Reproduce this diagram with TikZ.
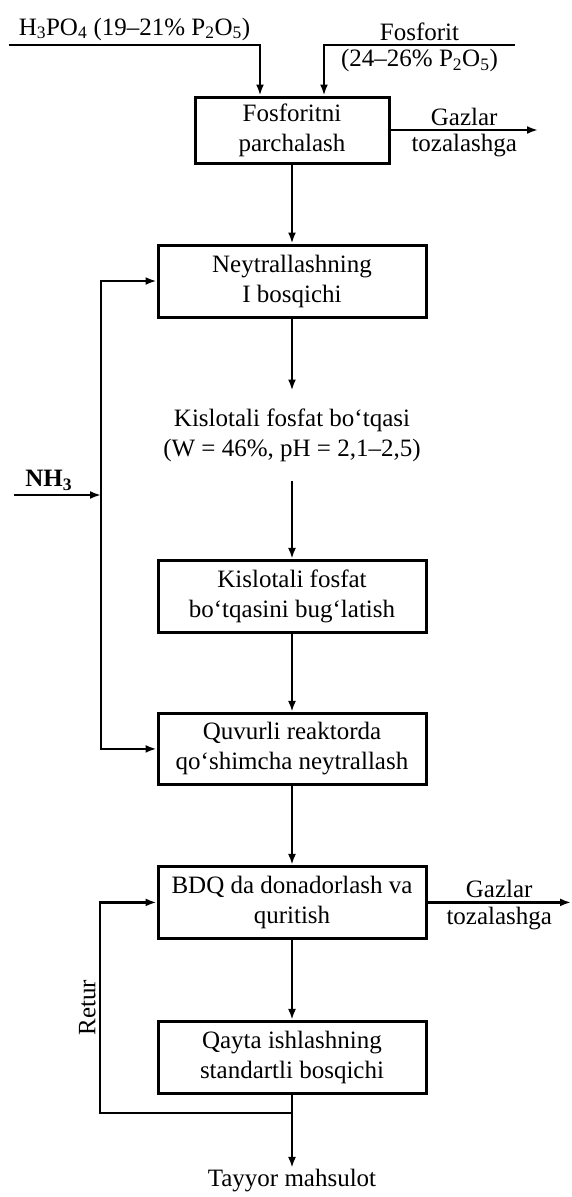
\documentclass[tikz,border=0pt]{standalone}
\usepackage{fontspec}
\setmainfont{Liberation Serif}
\usepackage{tikz}
\usetikzlibrary{positioning,arrows.meta}
\tikzset{
  blok/.style={rectangle, draw, line width=3pt, align=center,
    minimum width=268pt, minimum height=72pt, inner sep=3pt,
    font=\fontsize{25}{30}\selectfont},
  blokk/.style={blok, minimum width=194pt, minimum height=66pt},
  strelka/.style={-{Latex[length=11pt,width=8pt]}, line width=2.2pt},
  yozuv/.style={font=\fontsize{25}{30}\selectfont, align=center},
}

\begin{document}
\begin{tikzpicture}[x=1pt, y=-1pt]
  \useasboundingbox (0,0) rectangle (572,1197);
  \node[blokk] (parcha) at (292,130) {Fosforitni\\parchalash};
  \node[blok, below=79pt of parcha] (neytr) {Neytrallashning\\I bosqichi};
  \node[yozuv, below=72pt of neytr, minimum height=90pt] (kislota) {Kislotali fosfat bo‘tqasi\\(W = 46\%, pH = 2,1–2,5)};
  \node[blok, below=78pt of kislota] (buglat) {Kislotali fosfat\\bo‘tqasini bug‘latish};
  \node[blok, below=78pt of buglat, minimum height=71pt] (quvur) {Quvurli reaktorda\\qo‘shimcha neytrallash};
  \node[blok, below=79pt of quvur] (bdq) {BDQ da donadorlash va\\quritish};
  \node[blok, below=80pt of bdq] (qayta) {Qayta ishlashning\\standartli bosqichi};
  \node[yozuv, below=73pt of qayta, inner sep=1pt] (tayyor) {Tayyor mahsulot};

  % kirish va chiqish nuqtalari
  \coordinate (kbosh) at (9,45);
  \coordinate (fbosh) at (515,45);
  \coordinate (nbosh) at (14,495);
  \coordinate (ntugun) at (101,495);
  \coordinate (gaz1) at (538,0);
  \coordinate (gaz2) at (571,0);
  \coordinate (ayri) at (292,1113);
  \coordinate (rchap) at (100,1113);

  \draw[strelka] (kbosh) -| ([xshift=-32pt]parcha.north)
    node[pos=0.25, above, yozuv] {H\textsubscript{3}PO\textsubscript{4} (19–21\% P\textsubscript{2}O\textsubscript{5})};
  \draw[strelka] (fbosh) -| ([xshift=32pt]parcha.north)
    node[pos=0.25, above, yozuv] {Fosforit}
    node[pos=0.25, below, yozuv] {(24–26\% P\textsubscript{2}O\textsubscript{5})};
  \draw[strelka] (parcha.east) -- (parcha.east -| gaz1)
    node[midway, above, yozuv] {Gazlar} node[midway, below, yozuv] {tozalashga};

  % ammiak
  \draw[strelka] (nbosh) -- (ntugun) node[pos=0.4, above, yozuv] {\bfseries NH\textsubscript{3}};
  \draw[strelka] (ntugun) |- (neytr.west);
  \draw[strelka] (ntugun) |- (quvur.west);

  \draw[strelka] (parcha) -- (neytr);
  \draw[strelka] (neytr) -- (kislota);
  \draw[strelka] (kislota) -- (buglat);
  \draw[strelka] (buglat) -- (quvur);
  \draw[strelka] (quvur) -- (bdq);
  \draw[strelka] (bdq) -- (qayta);
  \draw[strelka] (qayta) -- (tayyor);
  \draw[strelka] (bdq.east) -- (bdq.east -| gaz2)
    node[midway, above, yozuv] {Gazlar} node[midway, below, yozuv] {tozalashga};

  % retur
  \draw[strelka] (ayri) -- (rchap) |- (bdq.west)
    node[pos=0.25, above, rotate=90, yozuv] {Retur};
\end{tikzpicture}
\end{document}
